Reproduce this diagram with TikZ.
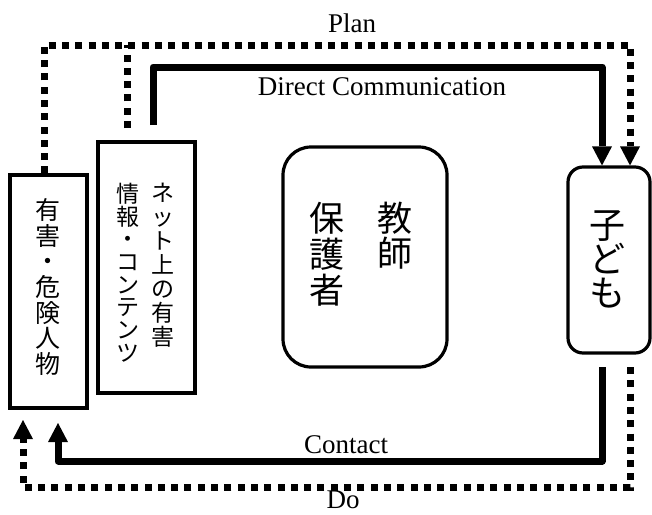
\documentclass[tikz,border=0pt]{standalone}
\usepackage{fontspec}
\setmainfont{Liberation Serif}
\newfontfamily\jp{Noto Sans CJK JP}
\usetikzlibrary{arrows.meta,calc}
\setlength{\lineskiplimit}{-100pt}
\begin{document}
\begin{tikzpicture}[x=1pt,y=-1pt,
  box/.style={draw,line width=3.2pt,inner sep=0pt},
  solidline/.style={line width=7pt,line join=round},
  dotline/.style={line width=7pt,dash pattern=on 7pt off 6.3pt},
  tip/.style={-{Triangle[width=20pt,length=19pt,line width=0pt]}},
  lab/.style={font=\fontsize{27}{30}\selectfont,anchor=base,inner sep=0pt},
  jtext/.style={align=center,inner sep=0pt}]
\useasboundingbox (0,0) rectangle (652,514);
% boxes
\node[box,minimum width=77pt,minimum height=233pt] (A) at (48.5,291.5) {};
\node[box,minimum width=97pt,minimum height=251pt] (B) at (146.5,267.5) {};
\node[box,rounded corners=28pt,minimum width=164pt,minimum height=220pt] (C) at (365,257) {};
\node[box,rounded corners=15pt,minimum width=82pt,minimum height=186pt] (D) at (609,260) {};
% texts
\node[jtext,font=\jp\fontsize{25}{25.7}\selectfont] (tA) at (48,287) {有\\害\\・\\危\\険\\人\\物};
\node[jtext,font=\jp\fontsize{23}{24}\selectfont] (tB1) at (163,265) {ネ\\ッ\\ト\\上\\の\\有\\害};
\node[jtext,font=\jp\fontsize{23}{22.7}\selectfont] (tB2) at (128,272.5) {情\\報\\・\\コ\\ン\\テ\\ン\\ツ};
\node[jtext,font=\jp\fontsize{35}{35}\selectfont] (tC1) at (395,235.5) {教\\師};
\node[jtext,font=\jp\fontsize{35}{36}\selectfont] (tC2) at (327,254) {保\\護\\者};
\node[jtext,font=\jp\fontsize{36}{34}\selectfont] (tD) at (607,259) {子\\ど\\も};
% labels
\node[lab] (plan) at (352,32) {Plan};
\node[lab] (dc) at (382,95) {Direct Communication};
\node[lab] (contact) at (346,453) {Contact};
\node[lab] (do) at (343,508.5) {Do};
% coordinates
\coordinate (p1) at (44,45);
\coordinate (p2) at (630,45);
\coordinate (q0) at (127,128);
\coordinate (s0) at (153,125);
\coordinate (s1) at (153,67);
\coordinate (s2) at (602,67);
\coordinate (b0) at (602,367);
\coordinate (b1) at (602,461);
\coordinate (b2) at (58,461);
\coordinate (b3) at (58,423);
\coordinate (d0) at (630,367);
\coordinate (d1) at (630,487);
\coordinate (d2) at (23,487);
\coordinate (d3) at (23,420);
% connectors
\draw[dotline,tip] (A.north -| p1) -- (p1) -- (p2) -- (D.north -| p2);
\draw[dotline] (q0) -- (q0 |- p1);
\draw[solidline,tip] (s0) -- (s1) -- (s2) -- (D.north -| s2);
\draw[solidline,tip] (b0) -- (b1) -- (b2) -- (b3);
\draw[dotline,tip] (d0) -- (d1) -- (d2) -- (d3);
\end{tikzpicture}
\end{document}
